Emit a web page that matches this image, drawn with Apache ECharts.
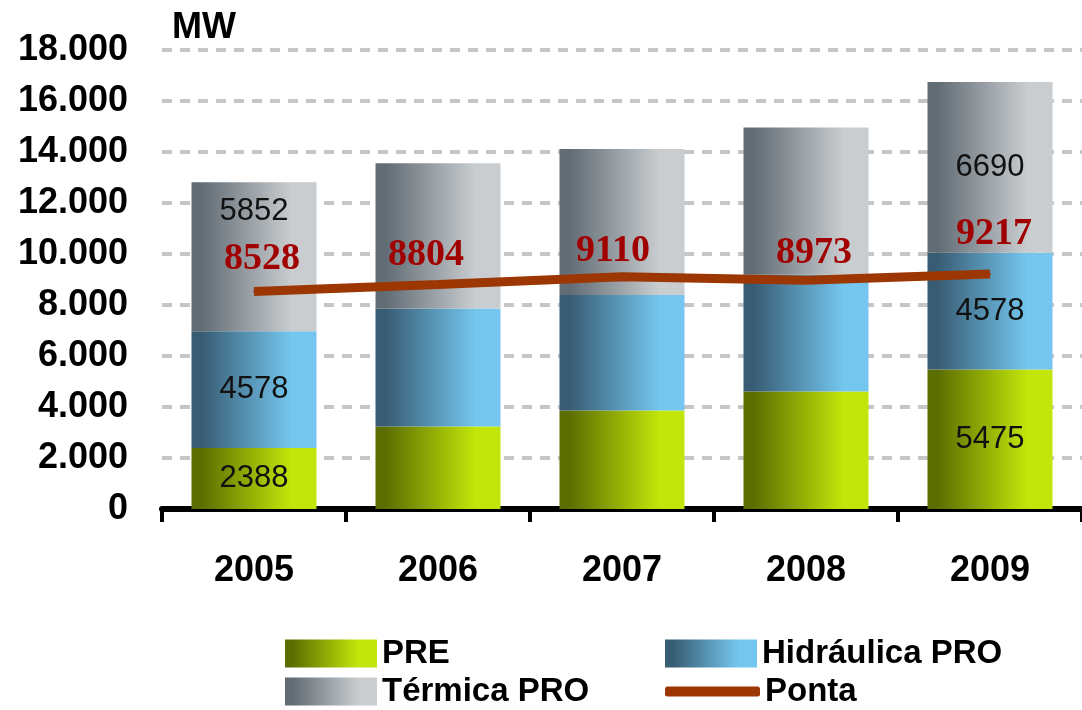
<!DOCTYPE html>
<html>
<head>
<meta charset="utf-8">
<script src="https://cdn.jsdelivr.net/npm/echarts@6/dist/echarts.min.js"></script>
<style>
html,body{margin:0;padding:0;background:#fff;}
#chart{width:1082px;height:710px;}
</style>
</head>
<body>
<div id="chart"></div>
<script>
// ---- data ----
const categories = ['2005', '2006', '2007', '2008', '2009'];
const pre = [2388, 3240, 3860, 4610, 5475];
const hidraulica = [4578, 4620, 4530, 4578, 4578];
const termica = [5852, 5700, 5730, 5770, 6690];
const ponta = [8528, 8804, 9110, 8973, 9217];
const labeledBars = [0, 4];
const yMax = 18000;
const yStep = 2000;
const unitLabel = 'MW';

// ---- style helpers ----
const termLabelOffsetY = [-45, 0, 0, 0, 0];
const pontaLabelOffset = [[8, -12], [-12, -9], [-9, -6], [8, -7], [4, -20]];

function grad(c0, c1) {
  return new echarts.graphic.LinearGradient(0, 0, 1, 0, [
    { offset: 0, color: c0 },
    { offset: 0.08, color: c0 },
    { offset: 0.8, color: c1 },
    { offset: 1, color: c1 }
  ]);
}
const cPre = grad('#5c6e00', '#c2e60a');
const cHid = grad('#385c74', '#74c6ee');
const cTer = grad('#626c74', '#c9cdd0');

const barLabel = {
  fontFamily: '"Liberation Sans Narrow", "Liberation Sans", sans-serif',
  fontSize: 31,
  color: '#111'
};

function barItems(values, offsets) {
  return values.map((v, i) => {
    const show = labeledBars.indexOf(i) >= 0;
    return {
      value: v,
      label: Object.assign({
        show: show,
        position: 'inside',
        offset: [0, offsets ? offsets[i] : 0],
        formatter: '{c}'
      }, barLabel)
    };
  });
}

const pontaItems = ponta.map((v, i) => ({
  value: v,
  label: {
    show: true,
    position: 'top',
    distance: 0,
    offset: pontaLabelOffset[i],
    formatter: '{c}',
    fontFamily: '"Liberation Serif", serif',
    fontWeight: 'bold',
    fontSize: 38,
    color: '#a00000'
  }
}));

const legendText = {
  fontFamily: '"Liberation Sans", Arial, sans-serif',
  fontWeight: 'bold',
  fontSize: 33,
  color: '#000'
};

const chart = echarts.init(document.getElementById('chart'), null, { renderer: 'canvas' });
chart.setOption({
  backgroundColor: '#fff',
  animation: false,
  grid: { left: 162, top: 50, width: 927, height: 459, containLabel: false },
  graphic: [{
    type: 'text', left: 172, top: 10,
    style: { text: unitLabel, fontFamily: '"Liberation Sans", Arial, sans-serif', fontWeight: 'bold', fontSize: 36, fill: '#000' }
  }],
  legend: [
    { data: ['PRE'], left: 285, top: 637, padding: 0, icon: 'rect', itemWidth: 92, itemHeight: 28, itemGap: 5, textStyle: legendText },
    { data: ['Hidráulica PRO'], left: 665, top: 637, padding: 0, icon: 'rect', itemWidth: 92, itemHeight: 28, textStyle: legendText },
    { data: ['Térmica PRO'], left: 285, top: 675, padding: 0, icon: 'rect', itemWidth: 92, itemHeight: 28, textStyle: legendText },
    { data: [{ name: 'Ponta', icon: 'roundRect' }], left: 665, top: 675, padding: 0, itemWidth: 95, itemHeight: 10, textStyle: legendText }
  ],
  xAxis: {
    type: 'category',
    data: categories,
    boundaryGap: true,
    axisLine: { show: true, lineStyle: { color: '#000', width: 6 } },
    axisTick: { show: true, length: 13, lineStyle: { color: '#000', width: 4 } },
    axisLabel: {
      margin: 44,
      fontFamily: '"Liberation Sans", Arial, sans-serif',
      fontWeight: 'bold',
      fontSize: 36,
      color: '#000'
    }
  },
  yAxis: {
    type: 'value',
    min: 0,
    max: yMax,
    interval: yStep,
    axisLine: { show: false },
    axisTick: { show: false },
    axisLabel: {
      margin: 34,
      fontFamily: '"Liberation Sans", Arial, sans-serif',
      fontWeight: 'bold',
      fontSize: 36,
      color: '#000',
      formatter: v => v === 0 ? '0' : (v / 1000) + '.000'
    },
    splitLine: { show: true, lineStyle: { color: '#c6c6c6', width: 4, type: [10, 8] } }
  },
  series: [
    { name: 'PRE', type: 'bar', stack: 'cap', barWidth: 125, itemStyle: { color: cPre }, data: barItems(pre) },
    { name: 'Hidráulica PRO', type: 'bar', stack: 'cap', barWidth: 125, itemStyle: { color: cHid }, data: barItems(hidraulica) },
    { name: 'Térmica PRO', type: 'bar', stack: 'cap', barWidth: 125, itemStyle: { color: cTer }, data: barItems(termica, termLabelOffsetY) },
    {
      name: 'Ponta', type: 'line', data: pontaItems, z: 10,
      showSymbol: true, symbol: 'circle', symbolSize: 2,
      itemStyle: { color: '#9c3704' },
      lineStyle: { color: '#9c3704', width: 9 }
    }
  ]
});
</script>
</body>
</html>
